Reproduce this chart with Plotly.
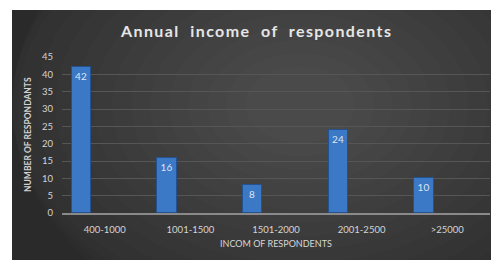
import plotly.graph_objects as go

categories = ["400-1000", "1001-1500", "1501-2000", "2001-2500", ">25000"]
respondents = [42, 16, 8, 24, 10]
y_ticks = [0, 5, 10, 15, 20, 25, 30, 35, 40, 45]

W, H = 491, 260
ML, MR, MT, MB = 62, 1, 57, 47
PW, PH = W - ML - MR, H - MT - MB

def px_x(p):
    return (p - ML) / PW

def px_y(p):
    return (H - MB - p) / PH

fig = go.Figure()
fig.add_trace(go.Bar(
    x=categories, y=respondents,
    width=0.227, offset=-0.385,
    marker=dict(color="#3b78c6", line=dict(color="#24528f", width=1)),
    text=respondents, texttemplate="%{y}",
    textposition="inside", insidetextanchor="end",
    textfont=dict(family="Lato, Open Sans, sans-serif", size=10, color="#dce6f2"),
    cliponaxis=False, hoverinfo="skip",
))

shapes = [dict(type="rect", xref="paper", yref="paper",
               x0=px_x(12), x1=px_x(W), y0=px_y(H), y1=px_y(10),
               fillcolor="#2a2a2a", line=dict(width=0), layer="below")]
# soft radial lightening toward the centre
cx, cy = 300, 105
n = 16
for i in range(n):
    r = 340 - i * 19
    shapes.append(dict(type="circle", xref="paper", yref="paper",
                       x0=max(px_x(cx - r), px_x(12)), x1=px_x(cx + r),
                       y0=px_y(cy + r * 0.7), y1=px_y(cy - r * 0.7),
                       fillcolor="rgba(255,255,255,0.011)", line=dict(width=0),
                       layer="below"))

annotations = [
    dict(text='<span style="letter-spacing:1.4px"><b>Annual  income  of  respondents</b></span>',
         xref="paper", yref="paper", x=px_x(256), y=px_y(31),
         xanchor="center", yanchor="middle", showarrow=False,
         font=dict(family="Lato, Open Sans, sans-serif", size=16, color="#e6e6e6")),
    dict(text="<b>NUMBER OF RESPONDANTS</b>", textangle=-90,
         xref="paper", yref="paper", x=px_x(28), y=px_y(135),
         xanchor="center", yanchor="middle", showarrow=False,
         font=dict(family="Lato, Open Sans, sans-serif", size=8.5, color="#d2d2d2")),
    dict(text="INCOM OF RESPONDENTS",
         xref="paper", yref="paper", x=px_x(276), y=px_y(243),
         xanchor="center", yanchor="middle", showarrow=False,
         font=dict(family="Lato, Open Sans, sans-serif", size=9, color="#d6d6d6")),
]

fig.update_layout(
    width=W, height=H,
    margin=dict(l=ML, r=MR, t=MT, b=MB, pad=0),
    paper_bgcolor="white", plot_bgcolor="rgba(0,0,0,0)",
    showlegend=False, shapes=shapes, annotations=annotations,
    bargap=0, hovermode=False,
)
fig.update_xaxes(
    type="category", showgrid=False, zeroline=False,
    showline=True, linecolor="#8a8a8a", linewidth=1.5,
    ticks="", ticklabelstandoff=7,
    tickfont=dict(family="Lato, Open Sans, sans-serif", size=9.5, color="#d4d4d4"),
)
fig.update_yaxes(
    range=[0, 45], tickvals=y_ticks, showgrid=True, gridcolor="#565656", gridwidth=1,
    zeroline=False, showline=False, ticks="", ticklabelstandoff=8,
    tickfont=dict(family="Lato, Open Sans, sans-serif", size=9.5, color="#d4d4d4"),
)

fig.write_html("out.html", config={"displayModeBar": False},
               post_script="document.body.style.margin='0';document.body.style.padding='0';")
